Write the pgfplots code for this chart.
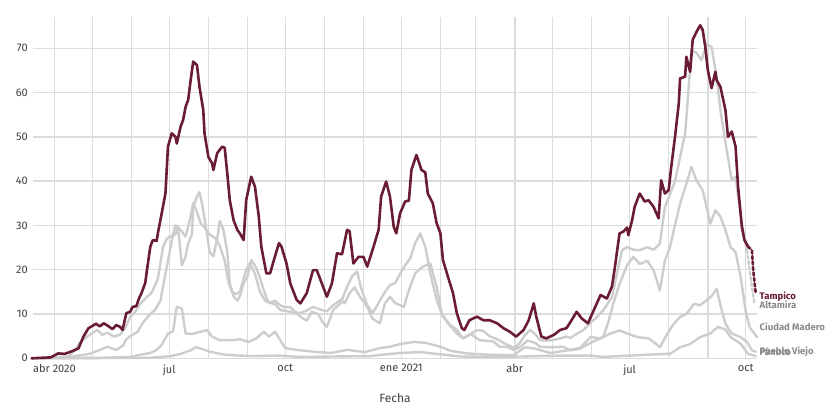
\documentclass[border=0pt]{standalone}
\usepackage{fontspec}
\setmainfont{Fira Sans}
\usepackage{pgfplots}
\pgfplotsset{compat=1.18}
\definecolor{guinda}{HTML}{691C32}
\definecolor{lgray}{HTML}{CDCDCD}
\definecolor{gridc}{HTML}{DCDCDC}
\definecolor{txt}{HTML}{3F3F3F}
\definecolor{lbl}{HTML}{8A8A8A}
\begin{document}
\begin{tikzpicture}
\path[use as bounding box] (0,0) rectangle (836pt,406pt);
\begin{axis}[
  at={(33pt,47.7pt)}, anchor=south west,
  scale only axis, width=724pt, height=341pt,
  xmin=-17, xmax=557, ymin=0, ymax=77,
  axis line style={draw=none},
  major tick length=0pt, minor tick length=0pt,
  xtick={0,91,183,275,365,456,548},
  xticklabels={abr 2020,jul,oct,ene 2021,abr,jul,oct},
  minor xtick={30,61,122,153,214,245,306,334,395,426,487,518},
  ytick={0,10,20,30,40,50,60,70},
  grid=both,
  major grid style={gridc, line width=1.4pt},
  minor grid style={gridc, line width=1.4pt},
  /pgf/number format/assume math mode=true,
  tick label style={font=\fontsize{11}{12}\selectfont, text=txt},
  yticklabel style={inner sep=0pt, xshift=-5pt},
  xticklabel style={inner sep=0pt, yshift=-6pt},
  xlabel={Fecha},
  xlabel style={at={(axis description cs:0.5,0)}, anchor=center, yshift=-40pt, font=\fontsize{12}{13}\selectfont, text=txt},
  clip=false,
  every axis plot/.append style={line join=round, line cap=round},
]
% Pueblo Viejo
\addplot[lgray, line width=2.4pt] coordinates {
(-18,0)(76,0.1)(92,0.5)(100,1)(108,1.8)(112,2.5)(116,2.2)(123,1.5)(135,0.8)(155,0.5)(179,0.6)(195,0.3)(219,0.4)(250,0.5)(274,1.2)(290,1.4)(306,0.9)(322,0.4)(353,0.3)(385,0.5)(401,0.6)(425,0.6)(435,0.3)(456,0.6)(484,1)(488,1)(496,2.5)(504,3.2)(512,4.8)(520,5.6)(526,7.1)(532,6.5)(536,4.8)(544,3.3)(550,1)(556,0.5)
};
% Panuco
\addplot[lgray, line width=2.4pt] coordinates {
(-18,0)(36,0.1)(60,0.3)(68,0.8)(76,1.2)(81,1.9)(85,3)(90,5.6)(94,6)(97,11.6)(101,11.3)(104,5.6)(109,5.5)(116,6)(121,6.4)(125,4.9)(131,4.1)(142,4.1)(147,4.3)(154,3.7)(160,4.5)(166,6)(170,4.9)(175,6)(179,4.1)(183,2.3)(192,1.9)(205,1.5)(219,1.2)(232,1.9)(246,1.4)(258,2.3)(266,2.6)(274,3.2)(285,3.7)(294,3.5)(306,2.6)(314,1.7)(327,1.1)(345,0.8)(364,0.7)(373,2.5)(381,2.2)(393,1.2)(409,1.9)(417,2.4)(425,4.8)(433,4.5)(440,5.5)(448,6.3)(455,5.5)(462,4.8)(471,4.5)(476,3.5)(480,2.5)(486,5.6)(491,7.8)(496,9.3)(501,10)(507,12.3)(512,12)(517,13.1)(521,14)(525,15.7)(528,12)(532,7.8)(537,5.6)(544,4.8)(549,3.7)(553,1.8)(556,1.5)
};
% Ciudad Madero
\addplot[lgray, line width=2.4pt] coordinates {
(-18,0)(-11,0)(12,0.3)(28,1)(36,1.9)(42,2.6)(49,1.9)(55,3)(56,4)(60,5)(66,6)(70,8)(76,10)(80,11)(84,13)(88,19)(92,25)(94,28)(96,30)(100,29)(104,27.5)(108,32)(110,35)(113,33)(116,30.5)(119,29.5)(123,28)(128,27)(131,25.5)(135,22)(138,17)(141,15)(144,14.5)(147,15)(152,20)(155,21.5)(159,19)(163,15)(167,13)(171,12.5)(175,12.2)(179,10.9)(187,10.5)(195,10.2)(200,10.8)(205,11.6)(211,11)(216,10.6)(221,12)(227,13.2)(230,12.4)(234,14.7)(238,16)(242,14)(248,11.6)(252,9)(258,7.9)(262,12.4)(266,13.9)(270,12.5)(277,11.6)(281,15.4)(286,19.2)(292,20.7)(298,21.4)(303,16.2)(307,10.2)(312,7.9)(319,5.6)(324,4.5)(330,5.5)(337,4.1)(348,3.8)(353,2.6)(359,2.6)(364,1.9)(369,2.5)(375,4)(381,3.5)(385,2.6)(393,2.5)(403,2.6)(409,1.8)(417,2.2)(425,3.5)(435,4.8)(439,8)(443,12.3)(448,16.8)(454,21)(459,22.9)(464,21.3)(470,22)(475,19.9)(480,15.3)(484,22.1)(488,25)(491,28.9)(496,34.9)(501,39.4)(505,43.2)(509,40.2)(514,37.9)(520,30.4)(524,33.4)(528,32)(532,28.9)(536,25.1)(540,24)(544,18.4)(548,10.8)(551,7.1)(557,4.8)
};
% Altamira
\addplot[lgray, line width=2.4pt] coordinates {
(-18,0)(-11,0)(5,0.2)(12,0.5)(18,2.6)(20,3.5)(26,4.9)(29,5.5)(34,6.4)(38,5.3)(42,5.8)(47,4.9)(52,5.3)(56,6.8)(60,9.3)(64,10.5)(68,12.3)(73,13.8)(76,14.5)(78,15.3)(82,18)(86,25)(89,27)(92,27.5)(96,28)(98,29.7)(101,21)(104,23)(106,26)(109,28)(110,34.2)(113,36.5)(115,37.5)(117,35)(121,28)(123,24)(126,23)(129,27)(131,31)(134,29)(137,24)(139,17)(142,14)(145,13)(147,14)(150,17)(153,18.4)(156,22.2)(159,21)(162,19)(166,15.4)(169,13)(171,12.5)(175,13)(179,12)(182,11.6)(187,11.5)(192,10.2)(195,9.4)(200,8.5)(204,10.5)(209,10)(213,8)(216,7.1)(221,10.9)(227,12.5)(232,16.2)(236,18.5)(240,19.6)(243,16)(248,12)(252,10.2)(255,11.5)(258,13)(262,15)(266,16.5)(270,17)(274,19)(278,21)(282,22.5)(286,26)(290,28.2)(294,25.2)(298,19.2)(303,13.2)(308,9.4)(314,7.5)(319,6.4)(324,4.5)(330,5.5)(335,6.4)(340,6.2)(345,5)(351,4.3)(356,3.5)(361,2.8)(365,2.3)(369,3.5)(373,5.2)(377,6.4)(381,5.5)(385,4.1)(390,4)(395,4.1)(401,4.5)(406,4.9)(409,4.6)(414,5.5)(419,6.3)(425,8)(430,9.3)(435,10.8)(442,13.8)(446,19.1)(450,24.4)(454,25.1)(459,24.5)(464,24.4)(470,25.1)(475,24.5)(480,25.9)(484,34.2)(488,37)(492,40)(496,45.4)(500,50.7)(502,58)(505,69.5)(509,69)(513,67.3)(517,71)(521,70.3)(525,63.5)(528,56)(533,47)(537,40.2)(540,41)(545,30.4)(549,24.4)
};
\addplot[lgray, line width=2.4pt, dash pattern=on 3pt off 2.5pt] coordinates {
(549,24.4)(553,16.1)(555,12.3)
};
% Tampico
\addplot[guinda, line width=2.6pt] coordinates {
(-18,0)(-11,0.1)(-3,0.2)(3,1.1)(8,1.0)(14,1.6)(19,2.2)(23,4.9)(27,6.8)(30,7.3)(33,7.8)(36,7.2)(39,7.9)(42,7.4)(46,6.6)(49,7.5)(52,7.1)(54,6.4)(57,10.2)(60,10.5)(62,11.6)(65,11.8)(67,13.5)(69,14.7)(72,17)(73,19.2)(76,25.2)(78,26.7)(81,26.5)(82,28.2)(85,32.7)(88,37.2)(90,47.8)(93,50.8)(96,50)(97,48.5)(100,52.3)(102,53.8)(104,56.8)(106,58.3)(108,62.8)(110,67)(113,66.2)(115,61.3)(118,56)(119,50.8)(122,45.5)(125,44)(126,42.5)(129,46.3)(133,47.8)(135,47.5)(137,41.8)(139,35.7)(142,31.2)(145,29)(147,28.2)(150,26.7)(152,35.7)(156,41)(159,38.7)(162,32)(164,25.2)(168,19.2)(171,19.2)(174,22.2)(178,26)(180,25.2)(184,21.4)(187,16.9)(192,13.2)(195,12.4)(200,14.7)(205,19.9)(208,19.9)(212,16.9)(216,13.9)(220,16.9)(224,23.7)(228,23.5)(232,29)(234,28.7)(237,21.4)(241,22.9)(245,22.9)(248,20.7)(253,25.2)(257,29)(259,36.5)(263,39.9)(266,36.5)(269,29.7)(271,28.2)(274,32.7)(278,35.4)(281,35.6)(283,42.5)(287,45.9)(288,45.1)(291,42.5)(294,42)(296,37.2)(300,35)(303,30.5)(306,28.2)(308,22.2)(312,18.4)(316,14.7)(319,10.2)(323,6.8)(325,6.4)(329,8.6)(335,9.4)(340,8.6)(345,8.6)(351,7.9)(356,6.8)(361,6)(366,4.9)(372,6.4)(376,8.6)(380,12.4)(382,9.4)(386,4.9)(390,4.5)(396,5.3)(401,6.4)(406,6.8)(410,8.6)(414,10.5)(418,9)(423,7.9)(427,10.5)(433,14.3)(438,13.5)(442,16.2)(444,19.9)(448,28.2)(451,28.6)(454,29.5)(455,27.8)(458,31.2)(460,34.2)(464,37.2)(468,35.4)(471,35.7)(475,34.2)(479,31.6)(481,40.2)(484,37.2)(487,38)(489,43.2)(492,50)(495,57.6)(496,63.2)(500,63.6)(501,68.1)(504,64.7)(506,71.9)(509,73.7)(512,75.2)(514,74.1)(516,70.3)(518,65.1)(521,61)(524,64.7)(525,62.8)(528,61.3)(532,56)(534,50)(537,51.2)(540,47.8)(542,38.7)(545,29.7)(547,26.7)(550,25.2)
};
\addplot[guinda, line width=2.6pt, dash pattern=on 3pt off 2.5pt] coordinates {
(550,25.2)(553,24.4)(554,19.9)(556,14.7)
};
\begin{scope}[every node/.style={anchor=west, inner sep=0pt, font=\bfseries\fontsize{9.5}{10}\selectfont}]
\node[text=guinda] at (axis cs:559,13.9) {Tampico};
\node[text=lbl] at (axis cs:559,12.0) {Altamira};
\node[text=lbl] at (axis cs:559,7.1) {Ciudad Madero};
\node[text=lbl] at (axis cs:559,1.4) {Pánuco};
\node[text=lbl] at (axis cs:559,1.4) {Pueblo Viejo};
\end{scope}
\end{axis}
\end{tikzpicture}
\end{document}
